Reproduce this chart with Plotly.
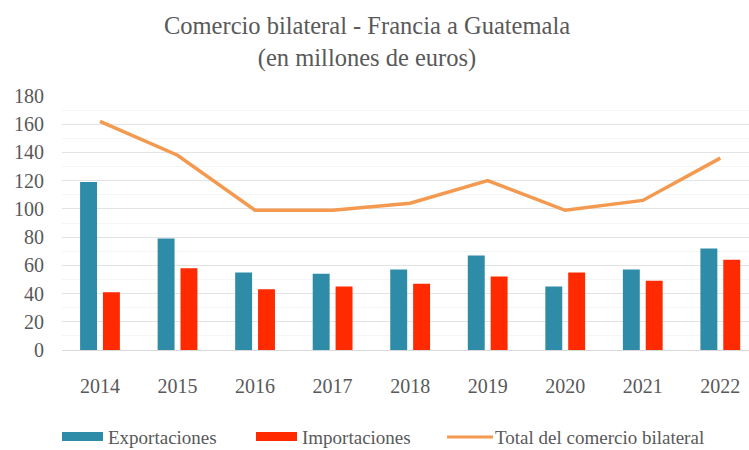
import plotly.graph_objects as go

years = ["2014", "2015", "2016", "2017", "2018", "2019", "2020", "2021", "2022"]
exportaciones = [119, 79, 55, 54, 57, 67, 45, 57, 72]
importaciones = [41, 58, 43, 45, 47, 52, 55, 49, 64]
total = [162, 138, 99, 99, 104, 120, 99, 106, 136]
y_ticks = [0, 20, 40, 60, 80, 100, 120, 140, 160, 180]
series_names = ["Exportaciones", "Importaciones", "Total del comercio bilateral"]

FONT = "Liberation Serif, Times New Roman, DejaVu Serif, serif"
GRAY = "#595959"
BLUE = "#2E8CA8"
RED = "#FF2A00"
ORANGE = "#F39A50"

# plot area in pixels: left 62, right 749, top 96, bottom 350
L, R, T, B = 62, 749, 96, 350


def px_x(p):
    return (p - L) / (R - L)


def px_y(p):
    return (B - p) / (B - T)


fig = go.Figure()
fig.add_trace(go.Bar(x=years, y=exportaciones, name=series_names[0],
                     marker=dict(color=BLUE, line=dict(width=0))))
fig.add_trace(go.Bar(x=years, y=importaciones, name=series_names[1],
                     marker=dict(color=RED, line=dict(width=0))))
fig.add_trace(go.Scatter(x=years, y=total, name=series_names[2],
                         mode="lines", line=dict(color=ORANGE, width=3.5)))

# manual legend (wide swatches like the original)
shapes = [
    dict(type="rect", xref="paper", yref="paper", x0=px_x(62), x1=px_x(103),
         y0=px_y(441), y1=px_y(432), fillcolor=BLUE, line=dict(width=0)),
    dict(type="rect", xref="paper", yref="paper", x0=px_x(256), x1=px_x(297),
         y0=px_y(441), y1=px_y(432), fillcolor=RED, line=dict(width=0)),
    dict(type="line", xref="paper", yref="paper", x0=px_x(447), x1=px_x(493),
         y0=px_y(437), y1=px_y(437), line=dict(color=ORANGE, width=3)),
]
annotations = [
    dict(text=series_names[0], xref="paper", yref="paper", x=px_x(106), y=px_y(437),
         xanchor="left", yanchor="middle", showarrow=False,
         font=dict(family=FONT, size=19, color=GRAY)),
    dict(text=series_names[1], xref="paper", yref="paper", x=px_x(300), y=px_y(437),
         xanchor="left", yanchor="middle", showarrow=False,
         font=dict(family=FONT, size=19, color=GRAY)),
    dict(text=series_names[2], xref="paper", yref="paper", x=px_x(493), y=px_y(437),
         xanchor="left", yanchor="middle", showarrow=False,
         font=dict(family=FONT, size=19, color=GRAY)),
]

fig.update_layout(
    width=749, height=450,
    margin=dict(l=L, r=749 - R, t=T, b=450 - B, autoexpand=False),
    paper_bgcolor="white", plot_bgcolor="white",
    barmode="group", bargap=0.41, bargroupgap=0.26,
    font=dict(family=FONT, color=GRAY, size=20),
    title=dict(text="Comercio bilateral - Francia a Guatemala<br>(en millones de euros)",
               x=0.49, xref="container", xanchor="center",
               y=1 - 34 / 450, yref="container", yanchor="middle",
               font=dict(family=FONT, size=24.5, color=GRAY)),
    showlegend=False,
    shapes=shapes,
    annotations=annotations,
)
fig.update_xaxes(range=[-0.49, 8.37], showgrid=False, showline=False, zeroline=False,
                 ticks="", ticklabelstandoff=22, automargin=False,
                 tickfont=dict(family=FONT, size=20, color=GRAY))
fig.update_yaxes(range=[0, 180], tickvals=y_ticks, showgrid=True, gridcolor="#E3E3E3",
                 gridwidth=1, zeroline=True, zerolinecolor="#D9D9D9", zerolinewidth=1,
                 showline=False, ticks="", ticklabelstandoff=17, automargin=False,
                 tickfont=dict(family=FONT, size=20, color=GRAY),
                 minor=dict(dtick=10, showgrid=True, gridcolor="#F5F5F5", gridwidth=1))

fig.write_html(
    "out.html",
    config={"displayModeBar": False},
    post_script="document.body.style.margin='0';document.body.style.overflow='hidden';",
)
